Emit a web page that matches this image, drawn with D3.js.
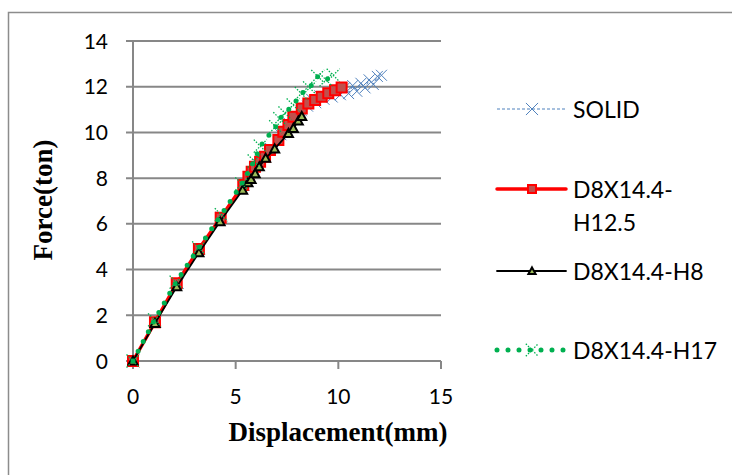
<!DOCTYPE html>
<html>
<head>
<meta charset="utf-8">
<script src="https://cdn.jsdelivr.net/npm/d3@7"></script>
<style>
  html, body { margin: 0; padding: 0; background: #fff; }
  svg { display: block; }
</style>
</head>
<body>
<svg id="chart" width="732" height="475"></svg>
<script>
// ---- Data ----
const xTicks = [0, 5, 10, 15];
const yTicks = [0, 2, 4, 6, 8, 10, 12, 14];
const seriesNames = ["SOLID", "D8X14.4-H12.5", "D8X14.4-H8", "D8X14.4-H17"];
const xTitle = "Displacement(mm)";
const yTitle = "Force(ton)";

const solid = [
  [0, 0], [1.1, 1.7], [2.2, 3.4], [3.2, 4.9], [4.3, 6.3], [5.4, 7.7], [6.1, 8.6],
  [6.7, 9.3], [7.2, 9.9], [7.6, 10.4], [7.9, 10.7], [8.2, 10.95], [8.5, 11.15],
  [8.7, 11.45], [8.9, 11.3], [9.1, 11.6], [9.3, 11.45], [9.5, 11.75], [9.7, 11.55],
  [9.9, 11.85], [10.1, 11.65], [10.3, 11.95], [10.5, 11.7], [10.7, 12.05], [10.9, 11.8],
  [11.1, 12.15], [11.3, 11.95], [11.5, 12.3], [11.7, 12.1], [11.9, 12.45], [12.1, 12.5]
];
const h125 = [
  [0, 0], [1.07, 1.7], [2.13, 3.4], [3.21, 4.9], [4.27, 6.27], [5.37, 7.7], [5.62, 8.06],
  [5.78, 8.28], [5.94, 8.5], [6.19, 8.72], [6.43, 8.94], [6.67, 9.23], [7.08, 9.67],
  [7.32, 10.03], [7.57, 10.32], [7.81, 10.69], [8.22, 11.05], [8.54, 11.27], [8.87, 11.42],
  [9.19, 11.56], [9.51, 11.71], [9.84, 11.85], [10.16, 11.97]
];
const h8 = [
  [0, 0], [1.07, 1.65], [2.13, 3.25], [3.21, 4.74], [4.24, 6.1], [5.34, 7.48], [5.6, 7.8],
  [5.75, 7.95], [5.95, 8.2], [6.15, 8.5], [6.46, 8.87], [6.9, 9.28], [7.57, 9.96],
  [7.81, 10.18], [8.05, 10.5], [8.22, 10.7]
];
const h17 = [
  [0, 0], [1.05, 1.8], [2.1, 3.45], [3.2, 4.95], [4.3, 6.4], [5.3, 7.75], [5.9, 8.75],
  [6.2, 9.4], [6.95, 10.25], [7.15, 10.6], [7.4, 10.85], [7.8, 11.2], [8.2, 11.7],
  [8.6, 11.95], [9.0, 12.45], [9.4, 12.3], [9.75, 12.5]
];

// ---- Layout ----
const svg = d3.select("#chart");
const plot = { left: 133, right: 441, top: 41, bottom: 361 };
const x = d3.scaleLinear().domain([0, 15]).range([plot.left, plot.right]);
const y = d3.scaleLinear().domain([0, 14]).range([plot.bottom, plot.top]);

const gridColor = "#878787";
const tickFont = "Lato, 'Open Sans', sans-serif";

// Outer border
svg.append("rect")
  .attr("x", 8.5).attr("y", 12.5).attr("width", 740).attr("height", 480)
  .attr("fill", "none").attr("stroke", "#8c8c8c").attr("stroke-width", 1.5);

// Gridlines (y) with ticks
svg.append("g").selectAll("line").data(yTicks).join("line")
  .attr("x1", plot.left - 7).attr("x2", plot.right)
  .attr("y1", d => y(d)).attr("y2", d => y(d))
  .attr("stroke", gridColor).attr("stroke-width", 2);

// Y axis line
svg.append("line")
  .attr("x1", x(0)).attr("x2", x(0)).attr("y1", y(14)).attr("y2", y(0))
  .attr("stroke", gridColor).attr("stroke-width", 2);

// X tick marks
svg.append("g").selectAll("line").data(xTicks).join("line")
  .attr("x1", d => x(d)).attr("x2", d => x(d))
  .attr("y1", y(0)).attr("y2", y(0) + 8)
  .attr("stroke", gridColor).attr("stroke-width", 2);

// Y tick labels
svg.append("g").selectAll("text").data(yTicks).join("text")
  .attr("x", 108).attr("y", d => y(d) + 7.5)
  .attr("text-anchor", "end")
  .attr("font-family", tickFont).attr("font-size", 21).attr("fill", "#000")
  .text(d => d);

// X tick labels
svg.append("g").selectAll("text").data(xTicks).join("text")
  .attr("x", d => x(d)).attr("y", 404)
  .attr("text-anchor", "middle")
  .attr("font-family", tickFont).attr("font-size", 21).attr("fill", "#000")
  .text(d => d);

// Axis titles
svg.append("text")
  .attr("x", 338).attr("y", 441)
  .attr("text-anchor", "middle")
  .attr("font-family", "'Liberation Serif', 'Times New Roman', serif")
  .attr("font-weight", "bold").attr("font-size", 27)
  .text(xTitle);

svg.append("text")
  .attr("transform", "translate(52,200) rotate(-90)")
  .attr("text-anchor", "middle")
  .attr("font-family", "'Liberation Serif', 'Times New Roman', serif")
  .attr("font-weight", "bold").attr("font-size", 27)
  .text(yTitle);

// ---- Series ----
const line = d3.line().x(d => x(d[0])).y(d => y(d[1]));
const xPath = s => `M${-s},${-s}L${s},${s}M${-s},${s}L${s},${-s}`;
const triPath = s => `M0,${-s}L${s},${s * 0.8}L${-s},${s * 0.8}Z`;

const styles = [
  { data: solid, stroke: "#4F81BD", width: 1, dash: "3,2", cap: "butt",
    marker: "x", mSize: 5.5, mStroke: "#4F81BD", mFill: "none", mWidth: 1, mDash: null },
  { data: h125, stroke: "#FF0000", width: 3.5, dash: null, cap: "round",
    marker: "square", mSize: 5, mStroke: "#FF0000", mFill: "#C0504D", mWidth: 2, mDash: null },
  { data: h8, stroke: "#000000", width: 1.8, dash: null, cap: "round",
    marker: "tri", mSize: 4.5, mStroke: "#000000", mFill: "#9BBB59", mWidth: 2, mDash: null },
  { data: h17, stroke: "#00B050", width: 5, dash: "0,11", cap: "round",
    marker: "x", mSize: 6.5, mStroke: "#00B050", mFill: "none", mWidth: 1.3, mDash: "1.5,1.5" }
];

function drawMarker(g, st, cx, cy, scale) {
  const s = st.mSize * (scale || 1);
  let p;
  if (st.marker === "x") p = xPath(s);
  else if (st.marker === "tri") p = triPath(s);
  else p = `M${-s},${-s}H${s}V${s}H${-s}Z`;
  g.append("path")
    .attr("d", p)
    .attr("transform", `translate(${cx},${cy})`)
    .attr("fill", st.mFill).attr("stroke", st.mStroke)
    .attr("stroke-width", st.mWidth)
    .attr("stroke-dasharray", st.mDash);
}

styles.forEach(st => {
  const g = svg.append("g");
  g.append("path").datum(st.data).attr("d", line)
    .attr("fill", "none").attr("stroke", st.stroke)
    .attr("stroke-width", st.width)
    .attr("stroke-dasharray", st.dash)
    .attr("stroke-linecap", st.cap).attr("stroke-linejoin", "round");
  st.data.forEach(d => drawMarker(g, st, x(d[0]), y(d[1])));
});

// ---- Legend ----
const legendY = [109, 189, 271, 350];
const legendLabels = [["SOLID"], ["D8X14.4-", "H12.5"], ["D8X14.4-H8"], ["D8X14.4-H17"]];
const lg = svg.append("g");
styles.forEach((st, i) => {
  const ly = legendY[i];
  lg.append("line")
    .attr("x1", 497).attr("x2", 566).attr("y1", ly).attr("y2", ly)
    .attr("stroke", st.stroke).attr("stroke-width", st.width)
    .attr("stroke-dasharray", st.dash).attr("stroke-linecap", st.cap);
  drawMarker(lg, st, 532, ly, i === 0 ? 1.1 : (i === 3 ? 0.95 : 0.8));
  legendLabels[i].forEach((t, j) => {
    lg.append("text")
      .attr("x", 573).attr("y", ly + 8.5 + j * 33)
      .attr("font-family", tickFont).attr("font-size", 23).attr("fill", "#000")
      .text(t);
  });
});
</script>
</body>
</html>
